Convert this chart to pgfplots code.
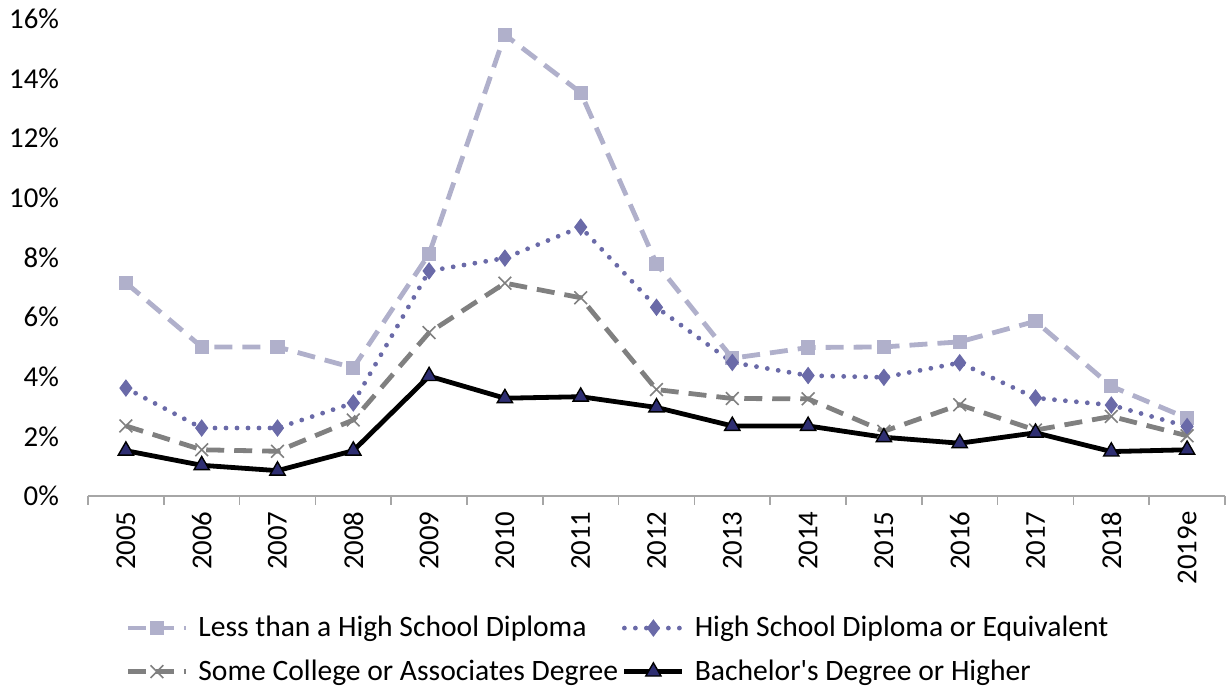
\documentclass[border=0pt]{standalone}
\usepackage{pgfplots}
\pgfplotsset{compat=1.18}
\usepackage{pgfplotstable}
\usepackage{fontspec}
\setmainfont{Carlito}
\definecolor{cless}{HTML}{B0B0CB}
\definecolor{chs}{HTML}{6A6AA8}
\definecolor{csome}{HTML}{808080}
\definecolor{cnavy}{HTML}{2E2E72}
\definecolor{caxis}{HTML}{A6A6A6}
\pgfplotstableread{
x less hs some bach
0 7.15 3.62 2.35 1.52
1 5.00 2.28 1.55 1.03
2 5.00 2.28 1.50 0.85
3 4.30 3.12 2.55 1.52
4 8.12 7.55 5.48 4.02
5 15.47 7.98 7.14 3.28
6 13.53 9.02 6.65 3.33
7 7.79 6.33 3.57 2.97
8 4.62 4.48 3.27 2.35
9 4.98 4.04 3.26 2.35
10 5.00 3.98 2.17 1.97
11 5.17 4.47 3.06 1.77
12 5.86 3.29 2.21 2.12
13 3.68 3.05 2.67 1.49
14 2.61 2.33 2.02 1.55
}\datatable
\begin{document}
\begin{tikzpicture}[font=\fontsize{14.4}{17}\selectfont]
\path[use as bounding box] (-44pt,-99pt) rectangle (569.5pt,248pt);
\begin{axis}[
  anchor=south west, at={(0pt,0pt)},
  scale only axis, width=568.5pt, height=238.5pt,
  xmin=-0.5, xmax=14.5, ymin=0, ymax=16,
  axis x line*=bottom, axis y line*=left,
  x axis line style={draw=caxis, line width=0.75pt},
  y axis line style={draw=none},
  xtick={0,...,14},
  xticklabels={2005,2006,2007,2008,2009,2010,2011,2012,2013,2014,2015,2016,2017,2018,2019e},
  major x tick style={draw=none},
  minor xtick={-0.5,0.5,...,14.5},
  minor x tick style={draw=caxis, line width=0.75pt},
  minor tick length=4.5pt,
  xtick align=outside,
  x tick label style={rotate=90, anchor=east, font=\fontsize{14.4}{17}\selectfont},
  ytick={0,2,...,16},
  yticklabels={0\%,2\%,4\%,6\%,8\%,10\%,12\%,14\%,16\%},
  ytick style={draw=none},
  y tick label style={anchor=east, xshift=-11pt, font=\fontsize{14.4}{17}\selectfont},
  legend columns=2,
  legend cell align=left,
  legend style={at={(0.467,-0.243)}, anchor=north, draw=none, fill=none,
    font=\fontsize{14.8}{17}\selectfont,
    /tikz/every even column/.append style={column sep=0pt},
    /tikz/every odd column/.append style={column sep=3pt},
    row sep=6pt, inner sep=0pt},
  legend image code/.code={\draw[#1, mark repeat=2, mark phase=2] plot coordinates {(0pt,0pt) (14.5pt,0pt) (29pt,0pt)};},
]
\addplot[cless, line width=2.4pt, dash pattern=on 9pt off 5pt,
  mark=square*, mark size=3.3pt, mark options={solid, fill=cless, draw=cless, line width=0.5pt}]
  table[x=x, y=less] {\datatable};
\addlegendentry{Less than a High School Diploma}
\addplot[chs, line width=2.4pt, line cap=round, dash pattern=on 0pt off 5.5pt,
  mark=diamond*, mark size=4pt, mark options={solid, fill=chs, draw=chs, line width=0.5pt}]
  table[x=x, y=hs] {\datatable};
\addlegendentry{High School Diploma or Equivalent}
\addplot[csome, line width=2.4pt, dash pattern=on 9pt off 5pt,
  mark=x, mark size=4.5pt, mark options={solid, line width=0.8pt, draw=csome}]
  table[x=x, y=some] {\datatable};
\addlegendentry{Some College or Associates Degree}
\addplot[black, line width=2.4pt,
  mark=triangle*, mark size=4.4pt, mark options={solid, fill=cnavy, draw=black, line width=0.7pt}]
  table[x=x, y=bach] {\datatable};
\addlegendentry{Bachelor\textquotesingle s Degree or Higher}
\end{axis}
\end{tikzpicture}
\end{document}
